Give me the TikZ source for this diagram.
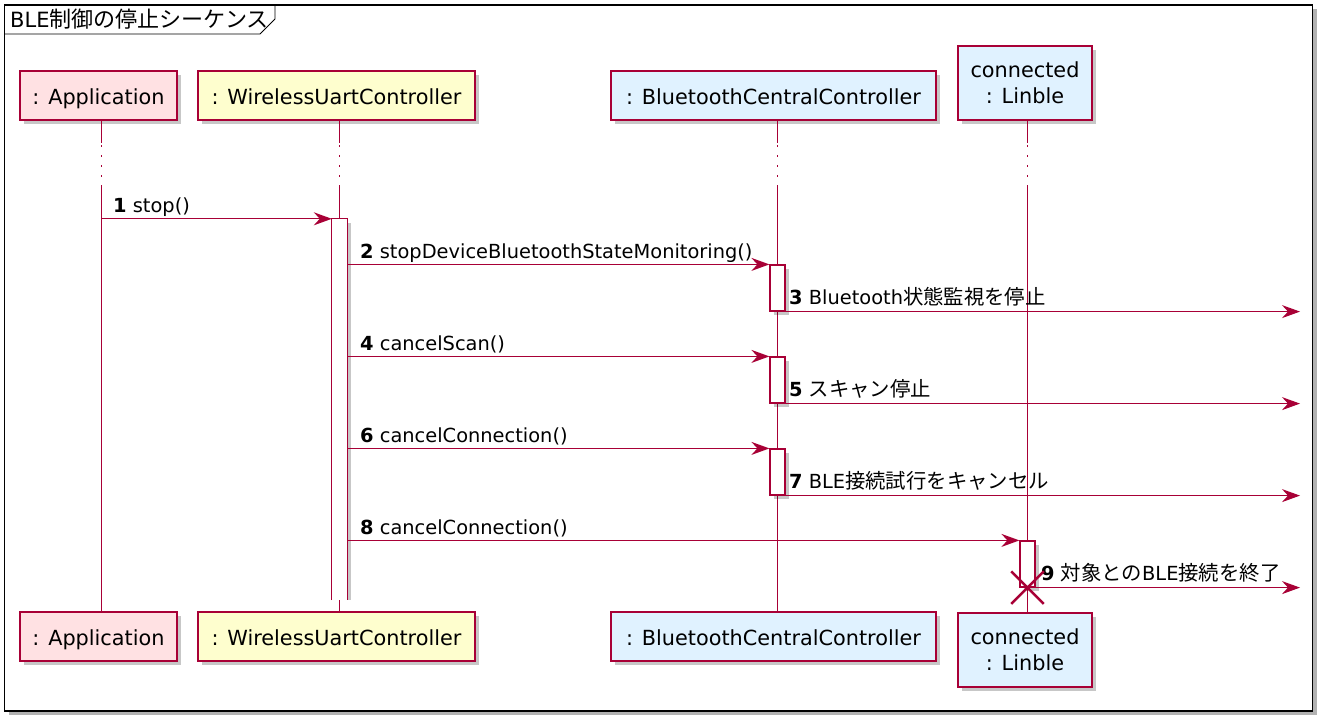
\documentclass[tikz,border=0pt]{standalone}
\usepackage{fontspec}
\setmainfont{DejaVu Sans}
\newfontfamily\jp[Scale=1.05]{Noto Sans CJK JP}
\usetikzlibrary{arrows.meta,shadows,shapes.misc}
\definecolor{pu}{HTML}{A80036}
\definecolor{appfill}{HTML}{FFE1E3}
\definecolor{wucfill}{HTML}{FEFECE}
\definecolor{bluefill}{HTML}{E0F2FF}
\newcommand\partfont{\fontsize{20.8}{26}\selectfont}
\newcommand\msgfont{\fontsize{19.4}{23}\selectfont}
\newcommand\ttlfont{\fontsize{21}{25}\selectfont}
\begin{document}
\begin{tikzpicture}[x=1pt,y=-1pt,
  shd/.style={drop shadow={shadow xshift=4pt,shadow yshift=-4pt,fill=black,opacity=0.22}},
  pbox/.style={draw=pu,line width=1.7pt,inner sep=0pt,align=center,font=\partfont,shd},
  onel/.style={text height=20pt,text depth=3pt},
  life/.style={draw=pu,line width=1.3pt},
  dotlife/.style={draw=pu,line width=1.3pt,dash pattern=on 2pt off 8pt},
  actbar/.style={draw=pu,line width=1.2pt,fill=white,minimum width=15pt,inner sep=0pt,shd},
  msg/.style={draw=pu,line width=1.25pt,-{Stealth[length=18pt,width=13pt,inset=6pt]}},
  lab/.style={anchor=base west,inner sep=0pt,font=\msgfont},
]
\useasboundingbox (0,0) rectangle (1328,726);
\fill[white] (0,0) rectangle (1328,726);

% frame
\path[draw=black,line width=1.4pt,fill=white,drop shadow={shadow xshift=4pt,shadow yshift=-4pt,fill=black,opacity=0.3}] (4.5,5) rectangle (1312.5,711);
\draw[black,line width=0.9pt] (4.5,34) -- (260,34) -- (275,19) -- (275,5);
\node[anchor=base west,inner sep=0pt,font=\ttlfont] (title) at (10,27) {BLE{\jp 制御の停止シーケンス}};

% lifeline x positions and break rows
\coordinate (Lapp) at (101.5,0);
\coordinate (Lwuc) at (339.5,0);
\coordinate (Lbcc) at (777.5,0);
\coordinate (Llin) at (1027.5,0);
\coordinate (d1) at (0,143);
\coordinate (d2) at (0,145);
\coordinate (d3) at (0,185);
\coordinate (edge) at (1300,0);

% participants (top)
\node[pbox,onel,fill=appfill,minimum width=157pt,minimum height=49pt] (appT) at (98.5,95.5) {: Application};
\node[pbox,onel,fill=wucfill,minimum width=277pt,minimum height=49pt] (wucT) at (336.5,95.5) {: WirelessUartController};
\node[pbox,onel,fill=bluefill,minimum width=325pt,minimum height=49pt] (bccT) at (773.5,95.5) {: BluetoothCentralController};
\node[pbox,fill=bluefill,minimum width=134pt,minimum height=74pt] (linT) at (1025,83) {connected\\: Linble};

% participants (bottom)
\node[pbox,onel,fill=appfill,minimum width=157pt,minimum height=49pt] (appB) at (98.5,636.75) {: Application};
\node[pbox,onel,fill=wucfill,minimum width=277pt,minimum height=49pt] (wucB) at (336.5,636.75) {: WirelessUartController};
\node[pbox,onel,fill=bluefill,minimum width=325pt,minimum height=49pt] (bccB) at (773.5,636.75) {: BluetoothCentralController};
\node[pbox,fill=bluefill,minimum width=134pt,minimum height=74pt] (linB) at (1025,649.75) {connected\\: Linble};

% lifelines
\foreach \L/\T/\B in {Lapp/appT/appB,Lwuc/wucT/wucB,Lbcc/bccT/bccB,Llin/linT/linB}{
  \draw[life] (\L |- \T.south) -- (\L |- d1);
  \draw[dotlife] (\L |- d2) -- (\L |- d3);
  \draw[life] (\L |- d3) -- (\L |- \B.north);
}

% activation of WirelessUartController (open at the bottom)
\fill[black,opacity=0.22] (347.5,223) rectangle (351,600);
\node[fill=white,minimum width=15pt,minimum height=381pt,inner sep=0pt] (a1) at (339.5,409.5) {};
\draw[pu,line width=1.2pt] (a1.south west) -- (a1.north west) -- (a1.north east) -- (a1.south east);

% activations
\node[actbar,minimum height=46pt] (a2) at (777.5,288) {};
\node[actbar,minimum height=46pt] (a4) at (777.5,380) {};
\node[actbar,minimum height=46pt] (a6) at (777.5,472) {};
\node[actbar,minimum height=46pt] (a8) at (1027.5,564) {};

% messages
\draw[msg] (Lapp |- a1.north) -- (a1.north west);
\node[lab] (l1) at (113,212) {\textbf{1} stop()};

\draw[msg] (a1.east |- a2.north) -- (a2.north west);
\node[lab] (l2) at (360,258) {\textbf{2} stopDeviceBluetoothStateMonitoring()};

\draw[msg] (a2.south east) -- (edge |- a2.south);
\node[lab] (l3) at (789,304) {\textbf{3} Bluetooth{\jp 状態監視を停止}};

\draw[msg] (a1.east |- a4.north) -- (a4.north west);
\node[lab] (l4) at (360,350) {\textbf{4} cancelScan()};

\draw[msg] (a4.south east) -- (edge |- a4.south);
\node[lab] (l5) at (789,396) {\textbf{5} {\jp スキャン停止}};

\draw[msg] (a1.east |- a6.north) -- (a6.north west);
\node[lab] (l6) at (360,442) {\textbf{6} cancelConnection()};

\draw[msg] (a6.south east) -- (edge |- a6.south);
\node[lab] (l7) at (789,488) {\textbf{7} BLE{\jp 接続試行をキャンセル}};

\draw[msg] (a1.east |- a8.north) -- (a8.north west);
\node[lab] (l8) at (360,534) {\textbf{8} cancelConnection()};

\draw[msg] (a8.south east) -- (edge |- a8.south);
\node[lab] (l9) at (1041,580) {\textbf{9} {\jp 対象との}BLE{\jp 接続を終了}};

% destruction
\node[cross out,draw=pu,line width=2.6pt,minimum size=30pt,inner sep=0pt] (x9) at (a8.south) {};
\end{tikzpicture}
\end{document}
